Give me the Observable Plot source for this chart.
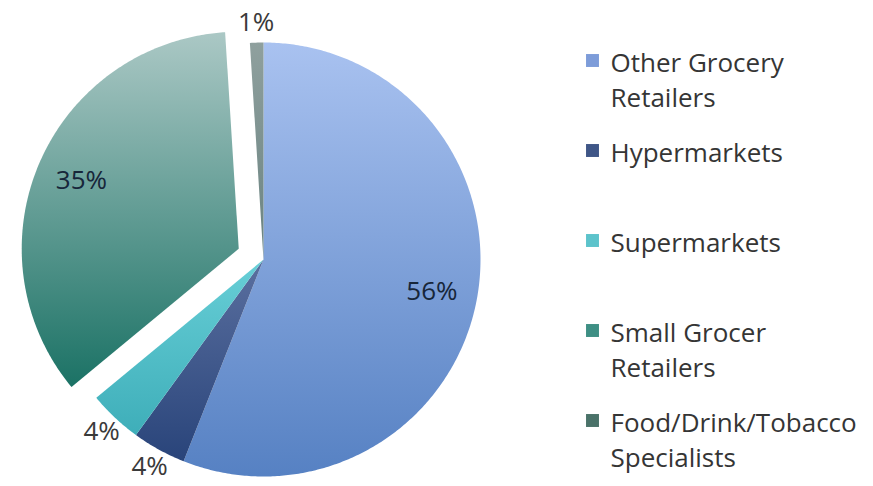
<!DOCTYPE html>
<html>
<head>
<meta charset="utf-8">
<script src="https://cdn.jsdelivr.net/npm/d3@7"></script>
<script src="https://cdn.jsdelivr.net/npm/@observablehq/plot@0.6"></script>
<style>
  html, body { margin: 0; padding: 0; background: #ffffff; }
  #chart { width: 873px; height: 486px; }
</style>
</head>
<body>
<div id="chart"></div>
<script>
// ---- Data ----
const categories = ["Other Grocery Retailers", "Hypermarkets", "Supermarkets", "Small Grocer Retailers", "Food/Drink/Tobacco Specialists"];
const shares = [56, 4, 4, 35, 1];
const shareLabels = ["56%", "4%", "4%", "35%", "1%"];
const legendLines = [["Other Grocery", "Retailers"], ["Hypermarkets"], ["Supermarkets"], ["Small Grocer", "Retailers"], ["Food/Drink/Tobacco", "Specialists"]];
const explodedSlices = [false, false, false, true, false];

// ---- Styles ----
const gradTop = ["#a9c2f0", "#5a6f9f", "#68cfd7", "#abc8c5", "#8fa09e"];
const gradBottom = ["#5681c3", "#29447a", "#3eaeb9", "#1b7265", "#6a8381"];
const swatch = ["#7d9cd9", "#3f5687", "#5cc3cb", "#3e8f84", "#4a7269"];

// ---- Layout ----
const W = 873, H = 486;
const cx = 263, cy = 259, R = 217, explodeBy = 27;
const legendX = 592, legendTextX = 610, legendTop = 63, legendStep = 90, lineH = 35;
const font = "Open Sans";

const arcs = d3.pie().sort(null).value(d => d)(shares);
const slicePts = [];
const labelRows = [];
arcs.forEach((a, i) => {
  const mid = (a.startAngle + a.endAngle) / 2;
  const off = explodedSlices[i] ? explodeBy : 0;
  const ox = cx + off * Math.sin(mid), oy = cy - off * Math.cos(mid);
  const pts = [{i, x: ox, y: oy}];
  const n = Math.max(2, Math.ceil((a.endAngle - a.startAngle) / 0.01));
  for (let k = 0; k <= n; k++) {
    const t = a.startAngle + (a.endAngle - a.startAngle) * k / n;
    pts.push({i, x: ox + R * Math.sin(t), y: oy - R * Math.cos(t)});
  }
  slicePts.push(pts);
  const inside = shares[i] >= 10;
  const lr = inside ? R * 0.79 : R * 1.09;
  labelRows.push({
    x: ox + lr * Math.sin(mid),
    y: oy - lr * Math.cos(mid),
    text: shareLabels[i],
    color: inside ? "#17263a" : "#3a3a3a"
  });
});

const legendSq = categories.map((c, i) => ({x: legendX, y: legendTop + i * legendStep - 3, color: swatch[i]}));
const legendTxt = [];
legendLines.forEach((lines, i) => lines.forEach((t, j) => legendTxt.push({x: legendTextX, y: legendTop + i * legendStep + j * lineH, text: t})));

const marks = slicePts.map((pts, i) =>
  Plot.line(pts, {x: "x", y: "y", fill: `url(#grad${i})`, stroke: "none", curve: "linear-closed"})
);
marks.push(
  Plot.text(labelRows, {x: "x", y: "y", text: "text", fill: "color", fontSize: 26, fontFamily: font, textAnchor: "middle", lineAnchor: "middle"}),
  Plot.dot(legendSq, {x: "x", y: "y", fill: "color", symbol: "square", r: 7.3, stroke: "none"}),
  Plot.text(legendTxt, {x: "x", y: "y", text: "text", fill: "#353535", fontSize: 26, fontFamily: font, textAnchor: "start", lineAnchor: "middle"})
);

const svg = Plot.plot({
  width: W, height: H,
  margin: 0,
  style: {background: "#ffffff", fontFamily: font},
  x: {domain: [0, W], range: [0, W], axis: null},
  y: {domain: [0, H], range: [0, H], axis: null},
  color: {type: "identity"},
  marks
});

const defs = d3.select(svg).insert("defs", ":first-child");
categories.forEach((c, i) => {
  const g = defs.append("linearGradient").attr("id", `grad${i}`)
    .attr("x1", 0).attr("y1", 0).attr("x2", 0).attr("y2", 1);
  g.append("stop").attr("offset", "0%").attr("stop-color", gradTop[i]);
  g.append("stop").attr("offset", "100%").attr("stop-color", gradBottom[i]);
});

document.getElementById("chart").appendChild(svg);
</script>
</body>
</html>
